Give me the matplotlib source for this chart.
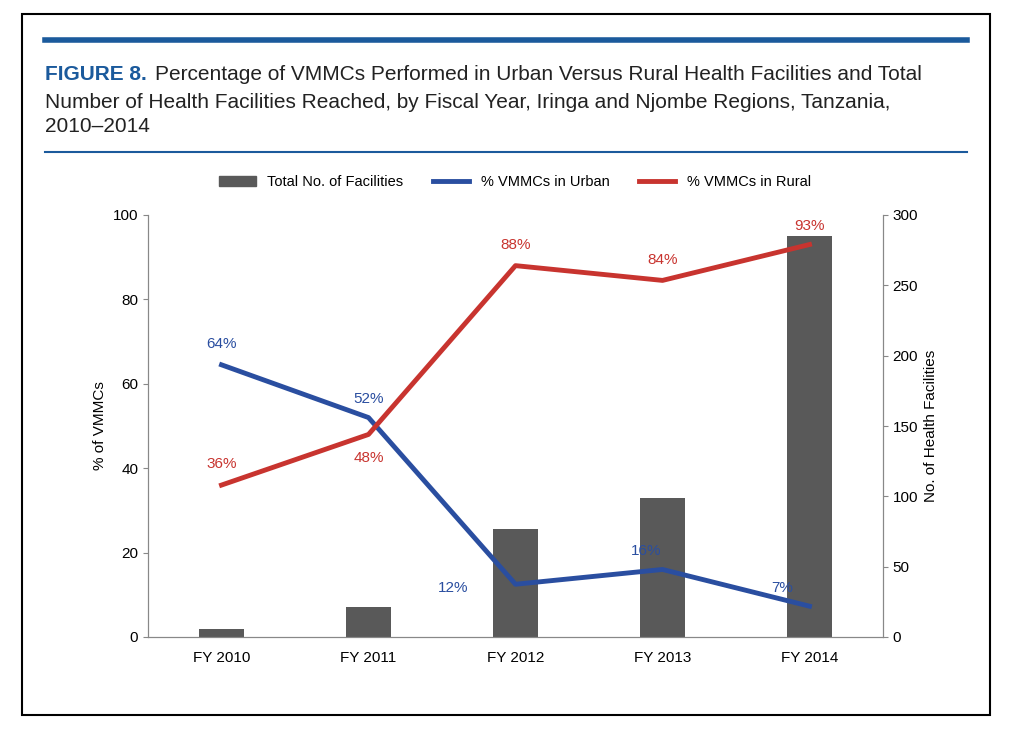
import matplotlib.pyplot as plt
from matplotlib.patches import Rectangle
from matplotlib.lines import Line2D

years = ["FY 2010", "FY 2011", "FY 2012", "FY 2013", "FY 2014"]
facilities = [6, 21, 77, 99, 285]
urban = [64.5, 52, 12.5, 16, 7.3]
rural = [36, 48, 88, 84.5, 93]
urban_labels = ["64%", "52%", "12%", "16%", "7%"]
rural_labels = ["36%", "48%", "88%", "84%", "93%"]

plt.rcParams["font.family"] = ["Liberation Sans", "DejaVu Sans"]
BLUE = "#2a4ea0"
RED = "#c8342f"
GREY = "#595959"
TITLE_BLUE = "#1b5a9c"

fig = plt.figure(figsize=(10.11, 7.33), dpi=100)

# border and rules
fig.patches.append(Rectangle((22 / 1011, 1 - 715 / 733), 968 / 1011, 701 / 733,
                             transform=fig.transFigure, fill=False, lw=1.5, ec="black"))
fig.add_artist(Line2D([45 / 1011, 967 / 1011], [1 - 40 / 733] * 2, color=TITLE_BLUE, lw=4))
fig.add_artist(Line2D([45 / 1011, 967 / 1011], [1 - 152 / 733] * 2, color=TITLE_BLUE, lw=1.5))

fig.text(45 / 1011, 1 - 75 / 733, "FIGURE 8.", color=TITLE_BLUE, fontsize=15,
         fontweight="bold", va="center")
fig.text(155 / 1011, 1 - 75 / 733,
         "Percentage of VMMCs Performed in Urban Versus Rural Health Facilities and Total",
         fontsize=15, va="center", color="#222222")
fig.text(45 / 1011, 1 - 102 / 733,
         "Number of Health Facilities Reached, by Fiscal Year, Iringa and Njombe Regions, Tanzania,",
         fontsize=15, va="center", color="#222222")
fig.text(45 / 1011, 1 - 127 / 733, "2010\u20132014", fontsize=15, va="center", color="#222222")

ax = fig.add_axes([148 / 1011, 1 - 637 / 733, 735 / 1011, 422 / 733])
ax2 = ax.twinx()
x = list(range(len(years)))

ax2.bar(x, facilities, width=0.3, color=GREY, zorder=1)
ax2.set_ylim(0, 300)
ax2.set_yticks(range(0, 301, 50))
ax2.set_ylabel("No. of Health Facilities", fontsize=11)

ax.set_zorder(ax2.get_zorder() + 1)
ax.patch.set_visible(False)
ax.plot(x, urban, color=BLUE, lw=3.5)
ax.plot(x, rural, color=RED, lw=3.5)
ax.set_ylim(0, 100)
ax.set_xlim(-0.5, 4.5)
ax.set_yticks(range(0, 101, 20))
ax.set_xticks(x)
ax.set_xticklabels(years)
ax.set_ylabel("% of VMMCs", fontsize=11)

urban_off = [(0, 10), (0, 8), (-45, -8), (-12, 8), (-20, 8)]
rural_off = [(0, 10), (0, -22), (0, 10), (0, 10), (0, 8)]
for i in x:
    ax.annotate(urban_labels[i], (i, urban[i]), xytext=urban_off[i], textcoords="offset points",
                ha="center", va="bottom", color=BLUE, fontsize=11)
    ax.annotate(rural_labels[i], (i, rural[i]), xytext=rural_off[i], textcoords="offset points",
                ha="center", va="bottom", color=RED, fontsize=11)

for a in (ax, ax2):
    a.spines["top"].set_visible(False)
    for s in ("left", "right", "bottom"):
        a.spines[s].set_color("#888888")
    a.tick_params(labelsize=11, color="#888888")
ax.tick_params(axis="x", length=0, pad=10)

handles = [Rectangle((0, 0), 1, 1, color=GREY),
           Line2D([0], [0], color=BLUE, lw=3.5),
           Line2D([0], [0], color=RED, lw=3.5)]
fig.legend(handles, ["Total No. of Facilities", "% VMMCs in Urban", "% VMMCs in Rural"],
           loc="center", bbox_to_anchor=(515 / 1011, 1 - 182 / 733), ncol=3, frameon=False,
           fontsize=10.5, handlelength=2.5, columnspacing=2)

fig.savefig("out.png", dpi=100)
